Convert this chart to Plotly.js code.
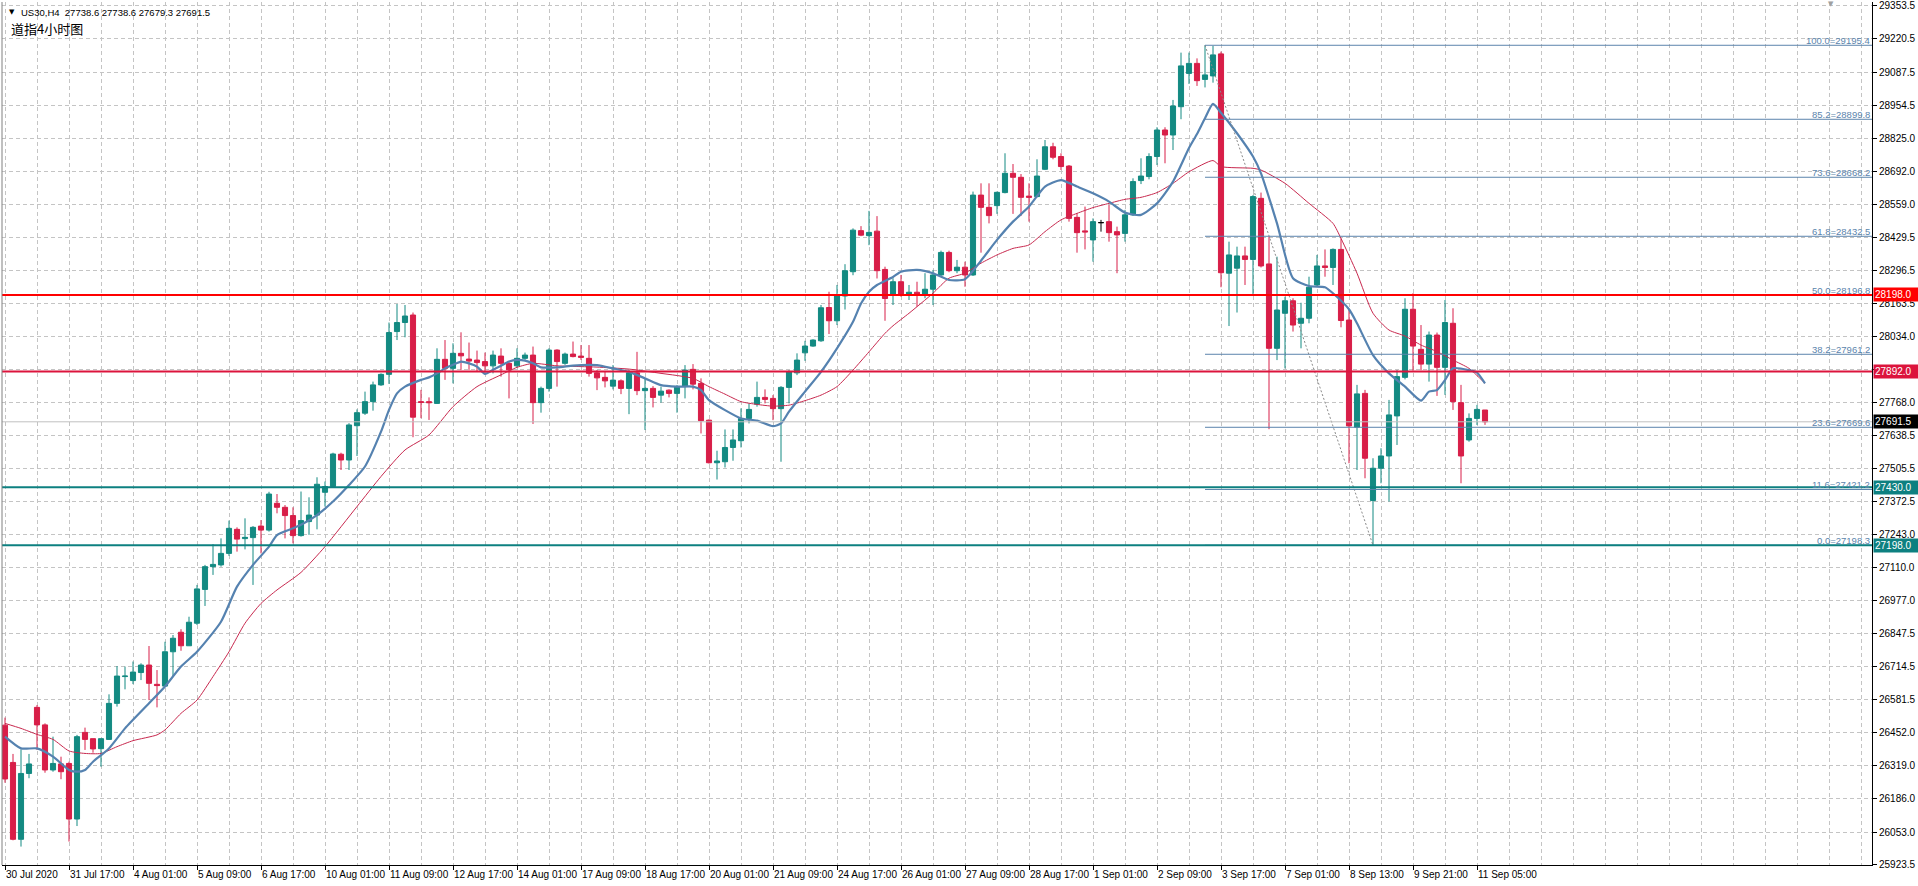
<!DOCTYPE html>
<html><head><meta charset="utf-8">
<script src="https://cdn.plot.ly/plotly-3.0.1.min.js"></script>
<style>html,body{margin:0;padding:0;background:#fff;overflow:hidden}#chart{width:1918px;height:886px}</style>
</head><body><div id="chart"></div>
<script>
// ---------------- DATA ----------------
const headerText = "US30,H4\u00a0\u00a027738.6 27738.6 27679.3 27691.5";
const chartTitle = "道指4小时图";
const xTickLabels = ['30 Jul 2020','31 Jul 17:00','4 Aug 01:00','5 Aug 09:00','6 Aug 17:00','10 Aug 01:00','11 Aug 09:00','12 Aug 17:00','14 Aug 01:00','17 Aug 09:00','18 Aug 17:00','20 Aug 01:00','21 Aug 09:00','24 Aug 17:00','26 Aug 01:00','27 Aug 09:00','28 Aug 17:00','1 Sep 01:00','2 Sep 09:00','3 Sep 17:00','7 Sep 01:00','8 Sep 13:00','9 Sep 21:00','11 Sep 05:00'];
const barsPerLabel = 8;
const yTickVals = [29353.5,29220.5,29087.5,28954.5,28825.0,28692.0,28559.0,28429.5,28296.5,28163.5,28034.0,27901.0,27768.0,27638.5,27505.5,27372.5,27243.0,27110.0,26977.0,26847.5,26714.5,26581.5,26452.0,26319.0,26186.0,26053.0,25923.5];

const opens = [26480,26331,26024,26287,26551,26481,26301,26325,26327,26105,
26451,26426,26386,26423,26567,26674,26658,26690,26720,26643,
26636,26773,26851,26797,26887,27022,27113,27120,27166,27262,
27225,27229,27275,27259,27366,27350,27317,27237,27293,27319,
27410,27433,27562,27539,27676,27726,27772,27839,27881,28052,
28088,28118,27772,27772,27765,27941,27905,27965,27942,27938,
27932,27915,27954,27925,27915,27945,27958,27768,27825,27978,
27925,27962,27954,27945,27887,27869,27834,27855,27825,27887,
27816,27825,27798,27818,27805,27834,27901,27845,27698,27528,
27532,27589,27616,27705,27762,27789,27785,27744,27829,27887,
27967,27994,28015,28148,28095,28194,28291,28455,28435,28453,
28300,28198,28251,28198,28209,28198,28221,28278,28368,28295,
28309,28278,28597,28548,28555,28607,28684,28668,28593,28591,
28700,28790,28751,28713,28508,28454,28418,28487,28491,28451,
28444,28518,28655,28671,28751,28857,28837,28950,29083,29123,
29059,29073,29161,28285,28305,28354,28340,28584,28322,27985,
28125,28175,28085,28105,28238,28314,28308,28380,28098,27670,
27805,27377,27506,27555,27715,27869,28141,27981,27922,28038,
27909,28085,27768,27619,27705,27738.6];
const highs = [26510,26365,26383,26365,26560,26487,26434,26354,26334,26441,
26470,26426,26426,26603,26716,26714,26734,26727,26796,26700,
26813,26840,26863,26913,27040,27120,27203,27226,27297,27270,
27306,27275,27299,27412,27403,27359,27350,27413,27390,27470,
27453,27568,27568,27686,27741,27812,27852,27885,28088,28162,
28158,28128,27819,27789,27985,28018,28005,28049,28008,27976,
27968,27976,27985,27932,27985,27968,27992,27832,27985,27981,
27968,28012,27998,27998,27898,27891,27918,27861,27898,27971,
27865,27834,27832,27821,27838,27918,27922,27865,27701,27576,
27661,27661,27745,27765,27852,27821,27798,27834,27898,27965,
28015,28021,28158,28211,28238,28321,28464,28473,28534,28513,
28311,28265,28278,28238,28251,28285,28298,28375,28375,28338,
28331,28611,28644,28644,28611,28764,28721,28681,28644,28740,
28817,28806,28764,28717,28524,28551,28504,28498,28558,28471,
28538,28664,28744,28764,28868,28868,28977,29166,29166,29143,
29195.4,29193,29170,28411,28391,28391,28597,28607,28431,28351,
28191,28185,28167,28271,28358,28380,28384,28424,28138,27839,
27819,27546,27586,27779,27898,28185,28205,28078,28052,28048,
28178,28145,27839,27725,27759,27738.6];
const lows = [26250,26020,25995,26268,26381,26290,26294,26264,26015,26077,
26381,26370,26314,26421,26554,26623,26644,26660,26580,26551,
26634,26674,26777,26796,26880,26956,27080,27113,27156,27173,
27182,27040,27166,27253,27326,27226,27206,27233,27240,27262,
27353,27433,27499,27499,27555,27719,27736,27835,27843,28018,
28029,27630,27706,27699,27763,27859,27845,27899,27899,27892,
27885,27885,27872,27785,27909,27939,27683,27728,27812,27832,
27919,27949,27939,27872,27818,27829,27821,27802,27722,27798,
27659,27749,27768,27789,27728,27785,27821,27645,27525,27461,
27509,27536,27589,27685,27752,27765,27698,27532,27765,27878,
27935,27991,28011,28042,28078,28140,28277,28433,28397,28264,
28095,28158,28191,28178,28151,28185,28158,28274,28289,28285,
28231,28274,28367,28484,28522,28604,28522,28514,28491,28588,
28697,28740,28697,28491,28367,28380,28331,28451,28411,28285,
28411,28514,28641,28660,28717,28724,28777,28900,29041,29033,
29027,29046,28229,28074,28128,28238,28202,28308,27662,27938,
27905,28052,27985,28085,28231,28271,28238,28069,27526,27499,
27466,27198.3,27446,27373,27599,27861,27896,27898,27852,27795,
27799,27739,27446,27612,27679,27679.3];
const closes = [26265,26024,26287,26325,26481,26301,26327,26294,26105,26434,
26423,26385,26426,26567,26676,26676,26692,26720,26647,26638,
26773,26827,26797,26891,27024,27113,27122,27166,27266,27223,
27230,27270,27259,27403,27350,27317,27237,27297,27319,27442,
27433,27563,27539,27679,27728,27772,27839,27881,28048,28088,
28114,27710,27769,27768,27941,27905,27965,27955,27934,27928,
27915,27958,27925,27899,27945,27958,27768,27825,27978,27932,
27962,27952,27949,27885,27867,27855,27858,27825,27887,27816,
27825,27789,27814,27805,27832,27898,27842,27696,27528,27535,
27589,27619,27705,27741,27789,27781,27744,27829,27891,27938,
27994,28018,28147,28095,28194,28295,28457,28437,28448,28295,
28184,28251,28198,28209,28198,28221,28278,28368,28295,28309,
28278,28597,28548,28515,28608,28684,28668,28588,28588,28673,
28790,28748,28711,28504,28447,28450,28491,28487,28447,28438,
28518,28651,28673,28751,28857,28837,28953,29113,29123,29054,
29077,29157,28287,28358,28354,28340,28591,28314,27985,28138,
28175,28078,28105,28229,28314,28308,28380,28096,27675,27803,
27546,27506,27555,27719,27872,28141,27994,27922,28038,27909,
28088,27772,27555,27705,27741,27691.5];

const fastMAIdx = [0,2,4,6,8,9,10,11,13,15,18,20,22,24,27,29,31,33,34,36,37,39,41,43,45,47,48,49,50,52,53,54,55,56,57,58,59,60,61,62,63,64,65,66,67,69,71,73,74,76,78,80,82,84,86,87,88,90,92,94,96,97,98,100,102,104,106,107,108,109,111,112,114,116,118,120,122,124,126,128,130,132,134,136,138,140,142,144,146,148,149,150,151,152,154,156,157,159,161,163,165,166,168,169,171,173,175,177,178,179,180,181,183,184,185];
const fastMAVal = [26434,26387,26387,26354,26301,26294,26301,26334,26387,26467,26567,26634,26714,26773,26893,27033,27120,27193,27239,27266,27280,27319,27373,27439,27513,27652,27739,27805,27832,27859,27869,27885,27905,27919,27932,27925,27912,27883,27899,27915,27932,27939,27936,27925,27909,27909,27916,27919,27918,27905,27891,27865,27838,27832,27832,27818,27778,27738,27705,27696,27674,27685,27732,27812,27891,27985,28091,28164,28211,28238,28270,28291,28298,28285,28258,28261,28335,28418,28491,28551,28631,28657,28631,28604,28571,28527,28518,28564,28651,28785,28841,28904,28961,28926,28844,28751,28684,28484,28265,28234,28229,28205,28141,28085,27958,27885,27832,27776,27812,27818,27858,27905,27898,27888,27845];
const slowMAIdx = [0,2,4,6,8,10,12,14,16,19,20,22,24,26,28,30,32,34,37,40,44,47,50,53,56,59,62,64,66,69,72,74,78,82,86,88,90,92,94,96,98,100,102,104,106,108,110,111,113,116,118,120,122,124,126,128,130,132,134,136,138,140,142,144,146,148,151,152,156,157,160,163,166,167,169,171,173,175,177,179,181,183,185];
const slowMAVal = [26487,26467,26443,26423,26377,26367,26367,26394,26418,26441,26461,26527,26580,26674,26773,26887,26966,27020,27090,27193,27353,27473,27579,27639,27752,27832,27879,27909,27925,27915,27912,27910,27902,27885,27865,27832,27802,27772,27761,27754,27758,27776,27798,27832,27898,27971,28045,28075,28125,28205,28265,28285,28325,28358,28384,28398,28451,28498,28524,28547,28564,28580,28588,28607,28644,28690,28735,28711,28704,28697,28644,28564,28484,28424,28285,28125,28058,28034,27998,27972,27938,27905,27845];

const fiboLevels = [100.0,85.2,73.6,61.8,50.0,38.2,23.6,11.6,0.0];
const fiboPrices = [29195.4,28899.8,28668.2,28432.5,28196.8,27961.2,27669.6,27421.2,27198.3];
const fiboHighBar = 150;
const fiboLowBar = 171;
const levelPrices = [28198.0,27892.0,27430.0,27198.0];
const bidPrice = 27691.5;

// ---------------- STYLE ----------------
const FONT = '"Liberation Sans", Arial, sans-serif';
const BULL = '#138a82', BEAR = '#d81e48', DOJI = '#000000';
const levelColors = ['#ff0000','#dc143c','#0d8080','#0d8080'];
const FIBO = '#5b84ac';
const GRID = '#c4c4c4';
const W = 1918, H = 886, ML = 2, MR = 46, MT = 2, MB = 21;
const PW = W - ML - MR, PH = H - MT - MB;
const PXPERBAR = 8, FIRSTBARPX = 5;
const xMin = -(FIRSTBARPX - ML) / PXPERBAR;
const xMax = xMin + PW / PXPERBAR;
const yMin = 25921.4, yMax = 29368.2;
const px2paperX = px => (px - ML) / PW;
const px2paperY = py => 1 - (py - MT) / PH;

// ---------------- TRACES ----------------
const idx = opens.map((_, i) => i);
const normalIdx = idx.filter(i => opens[i] !== closes[i]);
const dojiIdx = idx.filter(i => opens[i] === closes[i]);
const pick = (arr, list) => list.map(i => arr[i]);

const traces = [
  {
    type: 'candlestick', x: normalIdx,
    open: pick(opens, normalIdx), high: pick(highs, normalIdx),
    low: pick(lows, normalIdx), close: pick(closes, normalIdx),
    increasing: {line: {color: BULL, width: 1}, fillcolor: BULL},
    decreasing: {line: {color: BEAR, width: 1}, fillcolor: BEAR},
    whiskerwidth: 0, hoverinfo: 'skip', showlegend: false
  },
  {
    type: 'candlestick', x: dojiIdx,
    open: pick(opens, dojiIdx), high: pick(highs, dojiIdx),
    low: pick(lows, dojiIdx), close: pick(closes, dojiIdx),
    increasing: {line: {color: DOJI, width: 1}, fillcolor: DOJI},
    decreasing: {line: {color: DOJI, width: 1}, fillcolor: DOJI},
    whiskerwidth: 0, hoverinfo: 'skip', showlegend: false
  },
  {
    type: 'scatter', mode: 'lines', x: slowMAIdx, y: slowMAVal,
    line: {color: '#c8284e', width: 1, shape: 'spline', smoothing: 0.6},
    hoverinfo: 'skip', showlegend: false
  },
  {
    type: 'scatter', mode: 'lines', x: fastMAIdx, y: fastMAVal,
    line: {color: '#5582b0', width: 2.2, shape: 'spline', smoothing: 0.6},
    hoverinfo: 'skip', showlegend: false
  },
  {
    type: 'scatter', mode: 'lines', x: [fiboHighBar, fiboLowBar],
    y: [fiboPrices[0], fiboPrices[fiboPrices.length - 1]],
    line: {color: '#8a8a8a', width: 1, dash: '2px,2px'},
    hoverinfo: 'skip', showlegend: false
  }
];

// ---------------- SHAPES ----------------
const shapes = [];
shapes.push({type: 'line', xref: 'paper', yref: 'y', x0: 0, x1: 1, y0: bidPrice, y1: bidPrice,
  line: {color: '#c0c0c0', width: 1}, layer: 'above'});
fiboPrices.forEach(p => shapes.push({type: 'line', xref: 'x', yref: 'y', x0: fiboHighBar, x1: xMax,
  y0: p, y1: p, line: {color: FIBO, width: 1}, layer: 'above'}));
levelPrices.forEach((p, i) => shapes.push({type: 'line', xref: 'paper', yref: 'y', x0: 0, x1: 1,
  y0: p, y1: p, line: {color: levelColors[i], width: 2}, layer: 'above'}));
shapes.push({type: 'line', xref: 'paper', yref: 'paper', x0: 0, x1: 0, y0: 0, y1: 1,
  line: {color: '#808080', width: 1}, layer: 'above'});

// ---------------- ANNOTATIONS ----------------
const annotations = [];
annotations.push({xref: 'paper', yref: 'paper', x: px2paperX(7), y: px2paperY(12), xanchor: 'left', yanchor: 'middle',
  text: '▼', showarrow: false, font: {family: '"DejaVu Sans"', size: 7, color: '#000'}});
annotations.push({xref: 'paper', yref: 'paper', x: px2paperX(19), y: px2paperY(12), xanchor: 'left', yanchor: 'middle',
  text: headerText, showarrow: false, font: {family: FONT, size: 9.5, color: '#000'}});
annotations.push({xref: 'paper', yref: 'paper', x: px2paperX(9), y: px2paperY(29), xanchor: 'left', yanchor: 'middle',
  text: chartTitle, showarrow: false, font: {family: '"Noto Sans CJK SC"', size: 13, color: '#000'}});
annotations.push({xref: 'paper', yref: 'paper', x: px2paperX(1831), y: px2paperY(4), xanchor: 'center', yanchor: 'middle',
  text: '▼', showarrow: false, font: {family: '"DejaVu Sans"', size: 7, color: '#a0a0a0'}});
fiboLevels.forEach((lv, i) => annotations.push({xref: 'paper', yref: 'y', x: 1, y: fiboPrices[i],
  xanchor: 'right', yanchor: 'bottom', yshift: -3, showarrow: false,
  text: lv.toFixed(1) + '=' + fiboPrices[i].toFixed(1), font: {family: FONT, size: 9.5, color: FIBO}}));
const boxes = levelPrices.map((p, i) => ({p: p, c: levelColors[i]})).concat([{p: bidPrice, c: '#000000'}]);
boxes.forEach(b => annotations.push({xref: 'paper', yref: 'y', x: 1, y: b.p, xanchor: 'left', yanchor: 'middle',
  xshift: 1, showarrow: false, text: b.p.toFixed(1), bgcolor: b.c, borderpad: 1, width: 42, align: 'left',
  font: {family: FONT, size: 10, color: '#ffffff'}}));

// y tick labels hidden where a price box sits on top of them (as in the terminal)
const boxPrices = boxes.map(b => b.p);
const yTickText = yTickVals.map(v => boxPrices.some(p => Math.abs(p - v) < 15) ? '' : v.toFixed(1));

// ---------------- LAYOUT ----------------
const layout = {
  width: W, height: H,
  margin: {l: ML, r: MR, t: MT, b: MB, pad: 0},
  paper_bgcolor: '#ffffff', plot_bgcolor: '#ffffff',
  showlegend: false, dragmode: false,
  boxmode: 'overlay', boxgap: 0.36, boxgroupgap: 0,
  font: {family: FONT, size: 10, color: '#000'},
  xaxis: {
    range: [xMin, xMax], tickmode: 'array',
    tickvals: xTickLabels.map((_, i) => i * barsPerLabel), ticktext: xTickLabels,
    ticks: 'outside', ticklen: 4, tickcolor: '#000', ticklabelposition: 'outside right',
    tickangle: 0, automargin: false,
    showgrid: true, gridcolor: GRID, griddash: '4px,3px', gridwidth: 1,
    minor: {tickmode: 'linear', tick0: 0, dtick: barsPerLabel / 2, showgrid: true, gridcolor: GRID, griddash: '4px,3px', ticks: ''},
    showline: true, linecolor: '#000', linewidth: 1, zeroline: false,
    rangeslider: {visible: false}, fixedrange: true,
    tickfont: {family: FONT, size: 10, color: '#000'}
  },
  yaxis: {
    side: 'right', range: [yMin, yMax], tickmode: 'array',
    tickvals: yTickVals, ticktext: yTickText, automargin: false,
    ticks: 'outside', ticklen: 4, tickcolor: '#000',
    showgrid: true, gridcolor: GRID, griddash: '4px,3px', gridwidth: 1,
    showline: true, linecolor: '#000', linewidth: 1, zeroline: false, fixedrange: true,
    tickfont: {family: FONT, size: 10, color: '#000'}
  },
  shapes: shapes,
  annotations: annotations
};

Plotly.newPlot('chart', traces, layout, {staticPlot: true, displayModeBar: false});
</script>
</body></html>
